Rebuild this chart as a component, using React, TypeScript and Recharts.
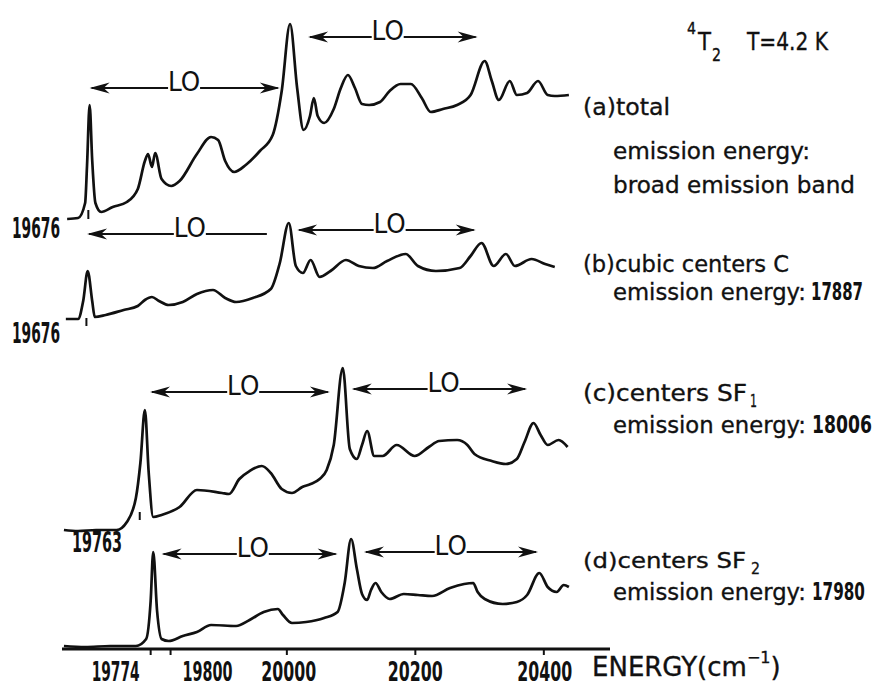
import React from "react";
import { LineChart, Line, XAxis, YAxis, ReferenceLine } from "recharts";

// ---------- data (energy in cm^-1, intensity in arbitrary units) ----------
const energyA = [19658, 19675, 19686, 19689, 19693, 19697, 19702, 19711, 19729, 19751, 19768, 19779, 19784, 19790, 19795, 19805, 19820, 19833, 19860, 19882, 19893, 19904, 19918, 19936, 19958, 19978, 19992, 20005, 20016, 20026, 20036, 20042, 20048, 20058, 20073, 20084, 20095, 20106, 20117, 20128, 20145, 20160, 20177, 20193, 20210, 20224, 20243, 20265, 20286, 20308, 20319, 20330, 20347, 20358, 20374, 20391, 20406, 20417, 20439];
const intensityA = [0, 1, 16, 54, 114, 59, 16, 7, 12, 17, 30, 58, 65, 52, 66, 40, 33, 38, 65, 82, 79, 58, 47, 54, 68, 84, 128, 195, 131, 89, 103, 121, 103, 96, 110, 131, 144, 131, 115, 114, 117, 128, 135, 135, 121, 107, 110, 114, 124, 158, 138, 119, 138, 124, 126, 138, 124, 123, 124];

const energyB = [19656, 19675, 19683, 19690, 19697, 19701, 19718, 19746, 19768, 19779, 19790, 19801, 19816, 19838, 19860, 19885, 19904, 19921, 19947, 19975, 19989, 20003, 20014, 20025, 20037, 20051, 20068, 20092, 20112, 20134, 20156, 20185, 20204, 20232, 20269, 20286, 20303, 20322, 20341, 20355, 20381, 20402, 20417];
const intensityB = [0, 0, 18, 48, 18, 2, 4, 9, 13, 19, 22, 18, 14, 17, 25, 29, 21, 17, 21, 30, 56, 96, 53, 46, 59, 42, 48, 59, 53, 51, 58, 65, 53, 48, 51, 63, 76, 53, 65, 53, 60, 55, 52];

const energyC = [19653, 19675, 19703, 19735, 19751, 19765, 19772, 19779, 19785, 19792, 19805, 19833, 19860, 19899, 19910, 19926, 19942, 19961, 19975, 19992, 20008, 20024, 20037, 20051, 20062, 20073, 20087, 20098, 20109, 20117, 20125, 20136, 20149, 20171, 20199, 20221, 20237, 20265, 20281, 20292, 20319, 20341, 20358, 20370, 20384, 20395, 20406, 20423, 20437];
const intensityC = [0, -1, 0, 0, 8, 32, 67, 120, 57, 13, 15, 23, 40, 37, 36, 51, 59, 64, 57, 41, 37, 43, 46, 51, 60, 85, 162, 81, 71, 85, 99, 74, 74, 85, 74, 83, 89, 90, 85, 76, 69, 66, 71, 88, 107, 95, 85, 90, 83];

const energyD = [19653, 19686, 19725, 19765, 19781, 19788, 19792, 19798, 19805, 19816, 19838, 19860, 19882, 19921, 19942, 19964, 19986, 19994, 20008, 20030, 20058, 20079, 20090, 20100, 20109, 20117, 20125, 20131, 20138, 20147, 20160, 20182, 20204, 20226, 20254, 20276, 20290, 20297, 20308, 20336, 20358, 20374, 20393, 20406, 20420, 20431, 20439];
const intensityD = [0, -1, 0, 0, 7, 45, 94, 35, 7, 5, 10, 14, 21, 20, 26, 34, 37, 31, 23, 24, 28, 34, 63, 107, 77, 52, 46, 56, 63, 54, 47, 52, 51, 50, 58, 62, 63, 54, 47, 42, 44, 51, 73, 59, 54, 61, 59];

// vertical offsets of the stacked spectra (a)..(d)
const spectrumOffsets = [430, 330, 119, 3];

// x axis ticks
const xTicks = [19788, 19819, 20000, 20200, 20400];
const xTickLabels = ["19774", "19800", "20000", "20200", "20400"];

// LO phonon arrows (energy start, end, level, label centre)
const loStart = [19693, 20033, 19689, 20016, 19787, 20101, 19805, 20120];
const loEnd = [19989, 20297, 19972, 20294, 20067, 20374, 20079, 20391];
const loLevel = [561, 612, 415, 419, 257, 260, 95, 97];
const loCenter = [19840, 20157, 19849, 20160, 19932, 20244, 19947, 20255];
const loRightHead = [true, true, false, true, true, true, true, true];

// zero-phonon-line markers
const zplEnergy = [19691, 19688, 19771];
const zplTop = [439, 331, 137];
const zplBottom = [430, 323, 129];

const build = (e: number[], v: number[], off: number) =>
  e.map((x, i) => ({ x, y: v[i] + off }));

const seriesA = build(energyA, intensityA, spectrumOffsets[0]);
const seriesB = build(energyB, intensityB, spectrumOffsets[1]);
const seriesC = build(energyC, intensityC, spectrumOffsets[2]);
const seriesD = build(energyD, intensityD, spectrumOffsets[3]);

const INK = "#111";
const SANS = "'DejaVu Sans', sans-serif";
const DIGIT_EM = 0.696; // DejaVu Sans Bold digit advance

const tickShift = [-35, 37, 2, 0, 1];
const tickWidth = [48, 50, 55, 55, 55];

// condensed bold digits drawn with a horizontal squeeze
const Digits = ({ x, y, w, size = 25, anchor = "start", children }: any) => {
  const s = String(children);
  const sx = w / (s.length * DIGIT_EM * size);
  return (
    <text
      transform={`translate(${x},${y}) scale(${sx.toFixed(3)},1)`}
      textAnchor={anchor}
      fontFamily={SANS}
      fontWeight="bold"
      fontSize={size}
      fill={INK}
    >
      {s}
    </text>
  );
};

const AxisTick = (props: any) => {
  const { x, y, payload } = props;
  const i = xTicks.indexOf(payload.value);
  return (
    <Digits x={x + tickShift[i]} y={y + 24} w={tickWidth[i]} size={26} anchor="middle">
      {xTickLabels[i]}
    </Digits>
  );
};

const head = (tx: number, ty: number, dir: number) => {
  const pts = [
    [tx, ty],
    [tx + dir * 20, ty - 5.5],
    [tx + dir * 14, ty],
    [tx + dir * 20, ty + 5.5],
  ];
  return <polygon points={pts.map((p) => p.join(",")).join(" ")} fill={INK} />;
};

const makeArrow = (i: number) => (p: any) => {
  const { x1, y1, x2 } = p;
  const lx = x1 + ((x2 - x1) * (loCenter[i] - loStart[i])) / (loEnd[i] - loStart[i]);
  return (
    <g>
      <line x1={x1 + 2} y1={y1} x2={lx - 16} y2={y1} stroke={INK} strokeWidth={1.8} />
      <line x1={lx + 16} y1={y1} x2={x2 - 2} y2={y1} stroke={INK} strokeWidth={1.8} />
      {head(x1, y1, 1)}
      {loRightHead[i] ? head(x2, y1, -1) : null}
      <text
        transform={`translate(${lx},${y1 + 3}) scale(0.95,1)`}
        textAnchor="middle"
        fontFamily={SANS}
        fontSize={26}
        fill={INK}
      >
        LO
      </text>
    </g>
  );
};

const Txt = ({ x, y, w, size = 23, children }: any) => (
  <text
    x={x}
    y={y}
    fontFamily={SANS}
    fontSize={size}
    fill={INK}
    stroke={INK}
    strokeWidth={0.35}
    textLength={w}
    lengthAdjust="spacingAndGlyphs"
  >
    {children}
  </text>
);

export default function App() {
  const series = [seriesA, seriesB, seriesC, seriesD];
  return (
    <div style={{ position: "absolute", left: 0, top: 0, width: 876, height: 688, background: "#fff" }}>
      <LineChart width={876} height={688} margin={{ top: 19, right: 266, bottom: 0, left: 62 }}>
        <XAxis
          type="number"
          dataKey="x"
          domain={[19650, 20503]}
          allowDataOverflow
          ticks={xTicks}
          interval={0}
          height={39}
          tick={<AxisTick />}
          tickSize={6}
          axisLine={{ stroke: INK, strokeWidth: 2.8 }}
          tickLine={{ stroke: INK, strokeWidth: 2 }}
        />
        <YAxis type="number" domain={[0, 630]} hide allowDataOverflow />
        {series.map((d, i) => (
          <Line
            key={i}
            data={d}
            dataKey="y"
            type="monotone"
            dot={false}
            stroke={INK}
            strokeWidth={2.7}
            strokeLinejoin="round"
            isAnimationActive={false}
          />
        ))}
        {loStart.map((s, i) => (
          <ReferenceLine
            key={"lo" + i}
            segment={[
              { x: s, y: loLevel[i] },
              { x: loEnd[i], y: loLevel[i] },
            ]}
            ifOverflow="visible"
            shape={makeArrow(i)}
          />
        ))}
        {zplEnergy.map((e, i) => (
          <ReferenceLine
            key={"zpl" + i}
            segment={[
              { x: e, y: zplTop[i] },
              { x: e, y: zplBottom[i] },
            ]}
            ifOverflow="visible"
            stroke={INK}
            strokeWidth={2}
          />
        ))}
      </LineChart>
      <svg
        width={876}
        height={688}
        style={{ position: "absolute", left: 0, top: 0, pointerEvents: "none" }}
      >
        {/* title */}
        <Txt x={687} y={34} size={15} w={9}>4</Txt>
        <Txt x={698} y={50} size={24} w={13}>T</Txt>
        <Txt x={712} y={61} size={18} w={9}>2</Txt>
        <Txt x={747} y={50} size={24} w={81}>T=4.2 K</Txt>

        {/* (a) */}
        <Txt x={583} y={115} w={87}>(a)total</Txt>
        <Txt x={613} y={159} w={197}>emission energy:</Txt>
        <Txt x={613} y={193} w={242}>broad emission band</Txt>

        {/* (b) */}
        <Txt x={583} y={272} w={206}>(b)cubic centers C</Txt>
        <Txt x={613} y={300} w={193}>emission energy:</Txt>
        <Digits x={811} y={300} w={52} size={25}>17887</Digits>

        {/* (c) */}
        <Txt x={583} y={401} size={22.5} w={164}>(c)centers SF</Txt>
        <Txt x={750} y={407} size={17} w={7}>1</Txt>
        <Txt x={613} y={433} w={193}>emission energy:</Txt>
        <Digits x={812} y={433} w={60} size={25}>18006</Digits>

        {/* (d) */}
        <Txt x={583} y={568} size={22} w={163}>(d)centers SF</Txt>
        <Txt x={751} y={574} size={16} w={9}>2</Txt>
        <Txt x={613} y={600} w={193}>emission energy:</Txt>
        <Digits x={812} y={600} w={53} size={25}>17980</Digits>

        {/* zero-phonon line energies */}
        <Digits x={12} y={238} w={48} size={28}>19676</Digits>
        <Digits x={12} y={343} w={48} size={28}>19676</Digits>
        <Digits x={72} y={552} w={50} size={28}>19763</Digits>

        {/* axis title */}
        <text x={592} y={676} fontFamily={SANS} fontSize={26} fill={INK} stroke={INK} strokeWidth={0.35}>
          ENERGY(cm
          <tspan dy={-13} fontSize={16}>−1</tspan>
          <tspan dy={13}>)</tspan>
        </text>
      </svg>
    </div>
  );
}
